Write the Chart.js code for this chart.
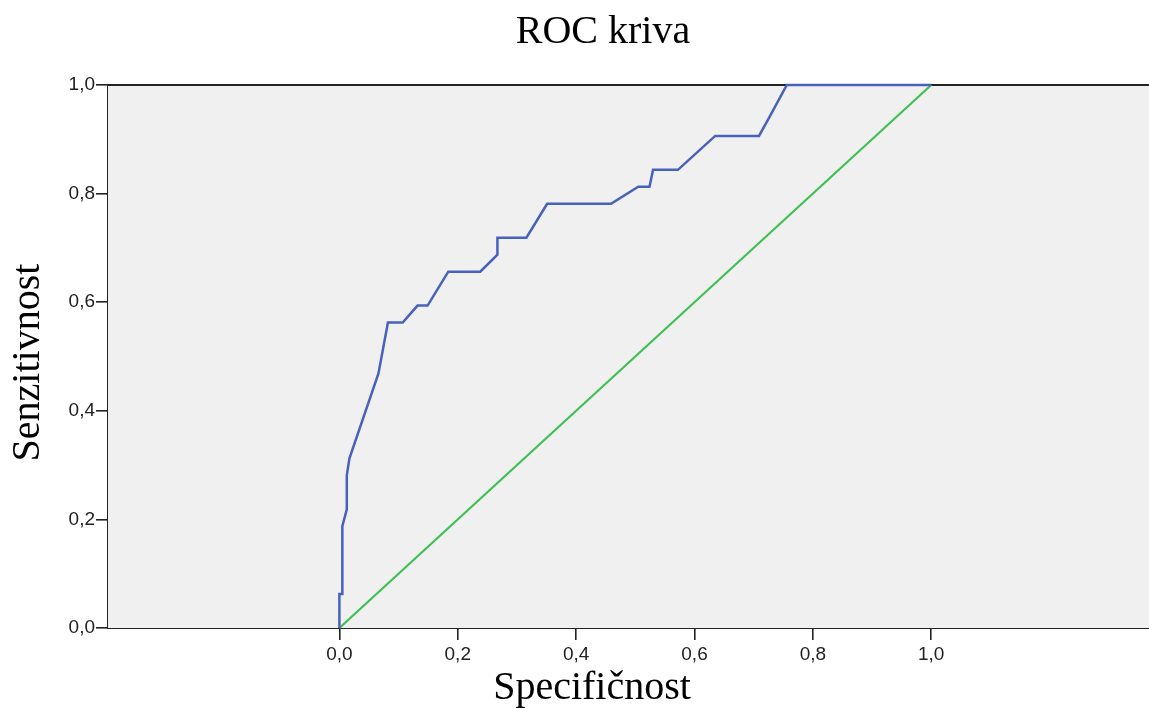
<!DOCTYPE html>
<html>
<head>
<meta charset="utf-8">
<title>ROC kriva</title>
<script src="https://cdn.jsdelivr.net/npm/chart.js@4/dist/chart.umd.min.js"></script>
<style>
  html, body { margin: 0; padding: 0; background: #fff; }
  #wrap { width: 1149px; height: 708px; }
</style>
</head>
<body>
<div id="wrap"><canvas id="rocChart"></canvas></div>
<script>
// ROC curve points (1 - specificity, sensitivity)
const fprValues = [0, 0, 0.005, 0.005, 0.0125, 0.0125, 0.017, 0.066, 0.082, 0.107, 0.132, 0.149,
    0.184, 0.238, 0.267, 0.267, 0.316, 0.351, 0.459, 0.505, 0.524, 0.530, 0.572, 0.635,
    0.709, 0.725, 0.756, 1.0];
const tprValues = [0, 0.0625, 0.0625, 0.1875, 0.21875, 0.28125, 0.3125, 0.46875, 0.5625, 0.5625,
    0.59375, 0.59375, 0.65625, 0.65625, 0.6875, 0.71875, 0.71875, 0.78125, 0.78125, 0.8125,
    0.8125, 0.84375, 0.84375, 0.90625, 0.90625, 0.9375, 1.0, 1.0];

// reference diagonal
const refX = [0, 1];
const refY = [0, 1];

const xTicks = [0, 0.2, 0.4, 0.6, 0.8, 1.0];
const yTicks = [0, 0.2, 0.4, 0.6, 0.8, 1.0];

function toPoints(xs, ys) {
    return xs.map(function(x, i) { return { x: x, y: ys[i] }; });
}

function fmt(v) {
    return v.toFixed(1).replace('.', ',');
}

// grey plot background, top frame line and the serif titles
const spssFrame = {
    id: 'spssFrame',
    beforeDatasetsDraw: function(chart) {
        const a = chart.chartArea;
        const ctx = chart.ctx;
        ctx.save();
        ctx.fillStyle = '#f0f0f0';
        ctx.fillRect(a.left, a.top, a.right - a.left, a.bottom - a.top);
        ctx.strokeStyle = '#222';
        ctx.lineWidth = 2;
        ctx.beginPath();
        ctx.moveTo(a.left, a.top);
        ctx.lineTo(a.right, a.top);
        ctx.stroke();
        ctx.restore();
    },
    afterDraw: function(chart) {
        const a = chart.chartArea;
        const ctx = chart.ctx;
        ctx.save();
        ctx.fillStyle = '#000';
        ctx.font = '40px "Liberation Serif", "Times New Roman", serif';
        ctx.textAlign = 'center';
        ctx.textBaseline = 'middle';
        ctx.fillText('ROC kriva', 603, 32);
        ctx.fillText('Specifičnost', 592, 688);
        ctx.translate(28, (a.top + a.bottom) / 2 + 6);
        ctx.rotate(-Math.PI / 2);
        ctx.fillText('Senzitivnost', 0, 0);
        ctx.restore();
    }
};

const ctx = document.getElementById('rocChart');
new Chart(ctx, {
    type: 'scatter',
    data: {
        datasets: [{
            label: 'ROC',
            data: toPoints(fprValues, tprValues),
            showLine: true,
            borderColor: 'rgb(72, 97, 186)',
            borderWidth: 2.5,
            pointRadius: 0,
            tension: 0,
            clip: false
        }, {
            label: 'Referentna linija',
            data: toPoints(refX, refY),
            showLine: true,
            borderColor: 'rgb(64, 192, 84)',
            borderWidth: 2.2,
            pointRadius: 0,
            clip: false
        }]
    },
    options: {
        responsive: true,
        maintainAspectRatio: false,
        animation: false,
        layout: { padding: { top: 85, left: 0, right: 0, bottom: 0 } },
        plugins: {
            legend: { display: false },
            tooltip: { enabled: false }
        },
        scales: {
            x: {
                type: 'linear',
                min: -0.391,
                max: 1.368,
                afterBuildTicks: function(scale) {
                    scale.ticks = xTicks.map(function(v) { return { value: v }; });
                },
                afterFit: function(scale) { scale.height = 80; },
                border: { display: true, color: '#222', width: 2 },
                grid: { drawOnChartArea: false, drawTicks: true, tickLength: 12, color: '#222', lineWidth: 1.6 },
                ticks: {
                    color: '#222',
                    padding: 3,
                    maxRotation: 0,
                    font: { family: '"Liberation Sans", Arial, sans-serif', size: 19 },
                    callback: function(v) { return fmt(v); }
                }
            },
            y: {
                type: 'linear',
                min: 0,
                max: 1,
                afterBuildTicks: function(scale) {
                    scale.ticks = yTicks.map(function(v) { return { value: v }; });
                },
                afterFit: function(scale) { scale.width = 108; },
                border: { display: true, color: '#222', width: 2 },
                grid: { drawOnChartArea: false, drawTicks: true, tickLength: 12, color: '#222', lineWidth: 1.6 },
                ticks: {
                    color: '#222',
                    padding: 1,
                    font: { family: '"Liberation Sans", Arial, sans-serif', size: 19 },
                    callback: function(v) { return fmt(v); }
                }
            }
        }
    },
    plugins: [spssFrame]
});
</script>
</body>
</html>
